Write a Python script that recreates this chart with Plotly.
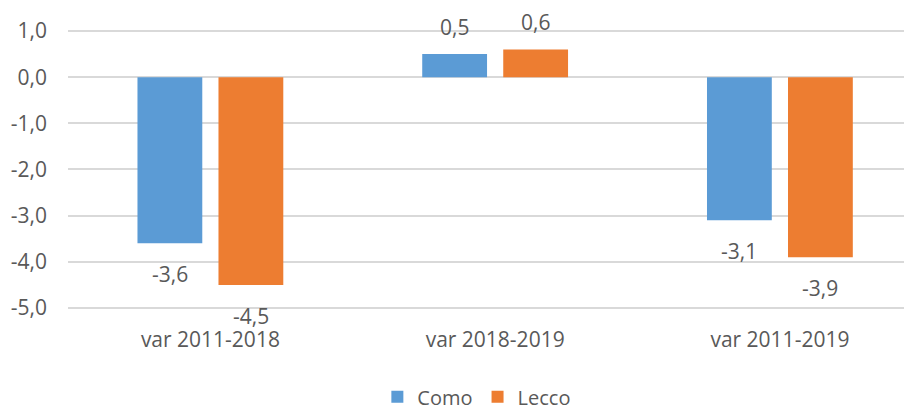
import plotly.graph_objects as go

categories = ["var 2011-2018", "var 2018-2019", "var 2011-2019"]
como = [-3.6, 0.5, -3.1]
lecco = [-4.5, 0.6, -3.9]
series_names = ["Como", "Lecco"]
colors = ["#5B9BD5", "#ED7D31"]
y_ticks = [1, 0, -1, -2, -3, -4, -5]
y_tick_labels = ["1,0", "0,0", "-1,0", "-2,0", "-3,0", "-4,0", "-5,0"]

FONT = "Open Sans"
TXT = "#595959"
BARGAP = 0.431
BARGROUPGAP = 0.2

def fmt(v):
    return f"{v:.1f}".replace(".", ",")

fig = go.Figure()
for name, vals, col in zip(series_names, [como, lecco], colors):
    fig.add_trace(go.Bar(
        x=categories, y=vals, name=name,
        marker=dict(color=col, line=dict(width=0)),
    ))

# data labels placed beyond each bar end
slot = (1 - BARGAP) / len(series_names)
annotations = []
for si, vals in enumerate([como, lecco]):
    off = (si - (len(series_names) - 1) / 2) * slot
    for ci, v in enumerate(vals):
        annotations.append(dict(
            x=ci + off, y=v, xref="x", yref="y",
            text=fmt(v), showarrow=False,
            yanchor="middle", yshift=27 if v >= 0 else -31,
            font=dict(family=FONT, size=21, color=TXT),
        ))

fig.update_layout(
    width=912, height=405,
    margin=dict(l=60, r=0, t=2, b=98, autoexpand=False),
    paper_bgcolor="white", plot_bgcolor="white",
    barmode="group", bargap=BARGAP, bargroupgap=BARGROUPGAP,
    font=dict(family=FONT, color=TXT, size=21),
    showlegend=True,
    legend=dict(orientation="h", xref="container", yref="container",
                x=0.405, xanchor="left", y=0.04, yanchor="middle",
                font=dict(family=FONT, size=20, color=TXT), itemwidth=30,
                traceorder="normal", tracegroupgap=0),
    annotations=annotations,
)
fig.update_xaxes(
    type="category", range=[-0.5, 2.492], automargin=False,
    showgrid=False, showline=False, zeroline=False, ticks="",
    ticklabelstandoff=10,
    tickfont=dict(family=FONT, size=21, color=TXT),
)
fig.update_yaxes(
    range=[-5.1515, 1.4545], automargin=False,
    tickvals=y_ticks, ticktext=y_tick_labels,
    showgrid=True, gridcolor="#d9d9d9", gridwidth=1.5,
    zeroline=True, zerolinecolor="#d9d9d9", zerolinewidth=1.5,
    showline=False, ticks="", ticklabelstandoff=20,
    tickfont=dict(family=FONT, size=21, color=TXT),
)

fig.write_html("out.html")
